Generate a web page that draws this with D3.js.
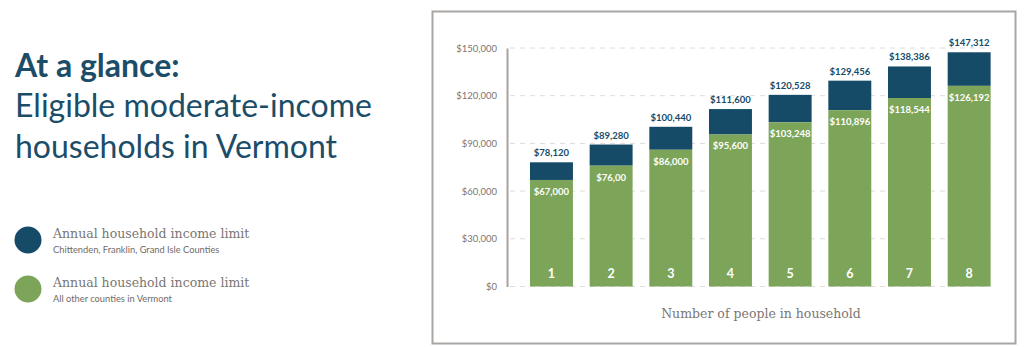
<!DOCTYPE html>
<html>
<head>
<meta charset="utf-8">
<script src="https://cdn.jsdelivr.net/npm/d3@7"></script>
<style>
  html, body { margin: 0; padding: 0; background: #fff; }
  svg { display: block; }
</style>
</head>
<body>
<svg id="chart" width="1024" height="347"></svg>
<script>
// Household sizes (x categories)
const householdSizes = ["1", "2", "3", "4", "5", "6", "7", "8"];
// Income limit, all other counties in Vermont
const otherCounties = [67000, 76000, 86000, 95600, 103248, 110896, 118544, 126192];
// Income limit text shown on the green segment
const otherCountiesLabels = ["$67,000", "$76,00", "$86,000", "$95,600", "$103,248", "$110,896", "$118,544", "$126,192"];
// Income limit, Chittenden, Franklin, Grand Isle Counties
const chittendenCounties = [78120, 89280, 100440, 111600, 120528, 129456, 138386, 147312];
// Y axis ticks
const yTicks = [0, 30000, 60000, 90000, 120000, 150000];

const navy = "#164b68";
const green = "#7da55a";
const titleColor = "#1b4d69";
const grey = "#7a7674";

const svg = d3.select("#chart");

// Heading
const heading = svg.append("text").attr("x", 15).attr("fill", titleColor)
  .style("font-family", "Lato, sans-serif").style("font-size", "32px");
heading.append("tspan").attr("x", 15).attr("y", 77).style("font-weight", "700").text("At a glance:");
heading.append("tspan").attr("x", 15).attr("y", 117).text("Eligible moderate-income");
heading.append("tspan").attr("x", 15).attr("y", 158).text("households in Vermont");

// Legend
const legendItems = [
  { color: navy, title: "Annual household income limit", sub: "Chittenden, Franklin, Grand Isle Counties", y: 240 },
  { color: green, title: "Annual household income limit", sub: "All other counties in Vermont", y: 289 }
];
const lg = svg.append("g").selectAll("g").data(legendItems).join("g");
lg.append("circle").attr("cx", 28).attr("cy", d => d.y).attr("r", 13.5).attr("fill", d => d.color);
lg.append("text").attr("x", 53).attr("y", d => d.y - 2).attr("fill", grey)
  .style("font-family", "'DejaVu Serif', serif").style("font-size", "12.5px")
  .text(d => d.title);
lg.append("text").attr("x", 53).attr("y", d => d.y + 13).attr("fill", "#6f6b69")
  .style("font-family", "Lato, sans-serif").style("font-size", "9.3px")
  .text(d => d.sub);

// Chart frame
svg.append("rect").attr("x", 432.5).attr("y", 11.5).attr("width", 583).attr("height", 332)
  .attr("fill", "#fff").attr("stroke", "#a9a6a4").attr("stroke-width", 2);

// Scales
const x = d3.scaleBand().domain(householdSizes).range([507, 1013.6])
  .paddingInner(0.28).paddingOuter(0.385);
const y = d3.scaleLinear().domain([0, 150000]).range([286.5, 48]);

// Dashed grid lines
svg.append("g").selectAll("line").data(yTicks).join("line")
  .attr("x1", 510).attr("x2", x("8") + x.bandwidth())
  .attr("y1", d => y(d)).attr("y2", d => y(d))
  .attr("stroke", "#dedcdb").attr("stroke-width", 1).attr("stroke-dasharray", "5,5");

// Y axis
const yAxis = svg.append("g").attr("transform", "translate(507,0)")
  .call(d3.axisLeft(y).tickValues(yTicks).tickSize(0).tickPadding(10)
    .tickFormat(d => "$" + d3.format(",")(d)));
yAxis.select(".domain").attr("stroke", "#a8a29e").attr("stroke-width", 2);
yAxis.selectAll("text").attr("fill", grey)
  .style("font-family", "Lato, sans-serif").style("font-size", "9.5px");

// Bars
const bars = svg.append("g").selectAll("g").data(householdSizes).join("g");
bars.append("rect").attr("x", d => x(d)).attr("width", x.bandwidth())
  .attr("y", (d, i) => y(chittendenCounties[i]))
  .attr("height", (d, i) => y(otherCounties[i]) - y(chittendenCounties[i]))
  .attr("fill", navy);
bars.append("rect").attr("x", d => x(d)).attr("width", x.bandwidth())
  .attr("y", (d, i) => y(otherCounties[i]))
  .attr("height", (d, i) => y(0) - y(otherCounties[i]))
  .attr("fill", green);

// Total labels above bars
bars.append("text").attr("x", d => x(d) + x.bandwidth() / 2)
  .attr("y", (d, i) => y(chittendenCounties[i]) - 6)
  .attr("text-anchor", "middle").attr("fill", navy)
  .style("font-family", "Lato, sans-serif").style("font-size", "9.5px").style("font-weight", "700")
  .text((d, i) => "$" + d3.format(",")(chittendenCounties[i]));

// Green segment labels
bars.append("text").attr("x", d => x(d) + x.bandwidth() / 2)
  .attr("y", (d, i) => y(otherCounties[i]) + 15)
  .attr("text-anchor", "middle").attr("fill", "#fff")
  .style("font-family", "Lato, sans-serif").style("font-size", "9.5px").style("font-weight", "700")
  .text((d, i) => otherCountiesLabels[i]);

// Household size labels
bars.append("text").attr("x", d => x(d) + x.bandwidth() / 2).attr("y", 278)
  .attr("text-anchor", "middle").attr("fill", "#fff")
  .style("font-family", "Lato, sans-serif").style("font-size", "12.5px").style("font-weight", "700")
  .text(d => d);

// X axis title
svg.append("text").attr("x", 761).attr("y", 318).attr("text-anchor", "middle").attr("fill", grey)
  .style("font-family", "'DejaVu Serif', serif").style("font-size", "12.5px")
  .text("Number of people in household");
</script>
</body>
</html>
